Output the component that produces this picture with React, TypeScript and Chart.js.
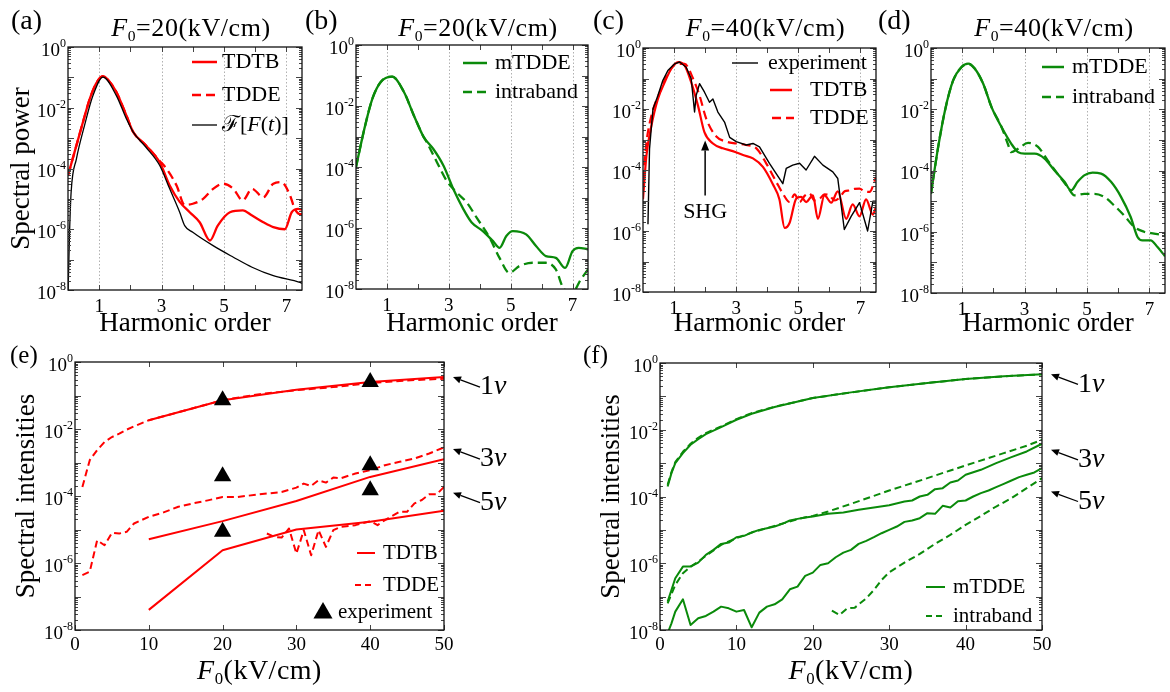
import React, { useEffect, useRef } from "react";
import { Chart, registerables } from "chart.js";

Chart.register(...registerables);

const SERIF = "'Liberation Serif', 'DejaVu Serif', serif";
const RED = "#ff0000";
const GREEN = "#0a8a0a";
const BLACK = "#000000";
Chart.defaults.font.family = SERIF;

// ---------- data (y values are log10 of the spectral power / intensity) ----------
// (a) F0 = 20 kV/cm
const aTdtbX = [0, 0.27, 0.48, 0.7, 0.9, 1.12, 1.3, 1.55, 1.87, 2.09, 2.5, 2.94, 3.26, 3.58, 3.9, 4.22, 4.55, 4.8, 5.19, 5.6, 5.9, 6.26, 6.58, 6.95, 7.17, 7.38, 7.5];
const aTdtbY = [-4.23, -3.24, -2.47, -1.7, -1.2, -0.96, -1.1, -1.48, -2.25, -2.8, -3.24, -3.8, -4.56, -5.1, -5.44, -5.77, -6.37, -5.88, -5.44, -5.38, -5.55, -5.77, -5.93, -6.0, -5.44, -5.33, -5.35];
const aTddeX = [0, 0.27, 0.48, 0.7, 0.9, 1.12, 1.3, 1.55, 1.87, 2.09, 2.5, 2.94, 3.15, 3.48, 3.74, 4.0, 4.33, 4.65, 4.97, 5.3, 5.6, 5.9, 6.26, 6.58, 6.84, 7.1, 7.27, 7.43, 7.5];
const aTddeY = [-4.23, -3.24, -2.47, -1.7, -1.2, -0.96, -1.1, -1.48, -2.25, -2.8, -3.24, -3.75, -4.0, -4.56, -5.2, -5.16, -5.0, -4.67, -4.5, -4.67, -5.05, -4.67, -4.95, -4.5, -4.45, -4.84, -5.33, -5.5, -5.5];
const aFieldX = [0, 0.05, 0.1, 0.27, 0.53, 0.8, 1.12, 1.55, 1.87, 2.09, 2.5, 2.94, 3.26, 3.58, 3.74, 4.0, 4.65, 5.3, 5.9, 6.58, 7.43, 7.5];
const aFieldY = [-8.2, -6.1, -4.78, -3.68, -2.58, -1.6, -0.99, -1.6, -2.36, -2.8, -3.3, -3.9, -4.67, -5.44, -5.88, -6.1, -6.54, -6.92, -7.25, -7.53, -7.75, -7.78];

// (b) F0 = 20 kV/cm
const bMtX = [0, 0.27, 0.53, 0.8, 1.17, 1.55, 1.87, 2.19, 2.5, 2.83, 3.15, 3.47, 3.74, 4.1, 4.43, 4.64, 4.86, 5.07, 5.5, 5.82, 6.14, 6.46, 6.76, 7.0, 7.2, 7.5];
const bMtY = [-4.0, -2.75, -1.76, -1.21, -1.04, -1.54, -2.31, -3.02, -3.41, -3.96, -4.73, -5.38, -5.82, -6.1, -6.43, -6.65, -6.26, -6.1, -6.21, -6.59, -6.92, -6.98, -7.31, -6.76, -6.65, -6.7];
const bIbX = [0, 0.27, 0.53, 0.8, 1.17, 1.55, 1.87, 2.19, 2.29, 2.62, 2.93, 3.26, 3.58, 3.9, 4.32, 4.64, 4.96, 5.28, 5.71, 6.14, 6.46, 6.72, 7.0, 7.26, 7.5];
const bIbY = [-4.0, -2.75, -1.76, -1.21, -1.04, -1.54, -2.31, -3.02, -3.19, -3.85, -4.45, -4.84, -5.16, -5.66, -6.32, -6.98, -7.47, -7.25, -7.14, -7.14, -7.36, -8.0, -8.1, -7.7, -7.36];

// (c) F0 = 40 kV/cm
const cExpX = [0.16, 0.21, 0.32, 0.48, 0.64, 0.8, 1.02, 1.18, 1.39, 1.55, 1.66, 1.71, 1.82, 1.98, 2.14, 2.25, 2.41, 2.63, 2.79, 3.0, 3.32, 3.54, 3.75, 4.07, 4.5, 4.61, 4.82, 5.04, 5.25, 5.52, 5.79, 6.11, 6.27, 6.48, 6.7, 6.97, 7.23, 7.4, 7.5];
const cExpY = [-5.78, -3.31, -2.0, -1.56, -1.06, -0.74, -0.52, -0.46, -0.63, -1.0, -2.1, -1.56, -1.17, -1.45, -1.78, -1.67, -2.1, -2.44, -2.93, -3.07, -3.18, -3.13, -3.24, -3.78, -4.45, -3.95, -3.84, -3.78, -4.0, -3.55, -3.84, -4.06, -4.28, -5.95, -5.52, -5.07, -6.0, -5.02, -5.02];
const cTdtbX = [0, 0.11, 0.27, 0.48, 0.7, 0.91, 1.13, 1.34, 1.55, 1.77, 1.98, 2.25, 2.57, 2.89, 3.22, 3.54, 3.86, 4.18, 4.39, 4.56, 4.72, 4.93, 5.09, 5.25, 5.47, 5.63, 5.84, 6.06, 6.27, 6.54, 6.75, 6.97, 7.18, 7.4, 7.5];
const cTdtbY = [-4.96, -3.53, -2.55, -1.67, -1.12, -0.68, -0.46, -0.57, -1.12, -1.89, -2.77, -3.13, -3.29, -3.38, -3.51, -3.62, -3.9, -4.47, -4.96, -5.9, -5.73, -4.94, -4.88, -5.05, -4.83, -5.6, -4.83, -5.07, -4.7, -5.6, -5.13, -5.52, -4.96, -5.46, -5.2];
const cTddeX = [0, 0.11, 0.27, 0.54, 0.8, 1.07, 1.34, 1.61, 1.82, 2.04, 2.36, 2.68, 3.0, 3.32, 3.65, 3.97, 4.29, 4.5, 4.72, 4.88, 5.04, 5.2, 5.36, 5.52, 5.68, 5.84, 6.0, 6.17, 6.33, 6.49, 6.65, 6.81, 6.97, 7.13, 7.29, 7.5];
const cTddeY = [-4.3, -3.1, -2.22, -1.45, -0.85, -0.52, -0.52, -1.0, -1.56, -2.33, -2.9, -3.07, -3.13, -3.18, -3.29, -3.79, -4.39, -4.77, -5.05, -4.8, -5.05, -4.85, -4.77, -5.0, -4.95, -4.8, -4.83, -5.0, -4.9, -4.7, -4.67, -4.62, -4.61, -4.7, -4.72, -4.23];

// (d) F0 = 40 kV/cm
const dMtX = [0, 0.23, 0.45, 0.71, 0.98, 1.19, 1.4, 1.67, 1.94, 2.26, 2.57, 2.79, 3.0, 3.32, 3.64, 3.96, 4.28, 4.49, 4.7, 4.91, 5.18, 5.45, 5.77, 6.09, 6.4, 6.62, 6.78, 7.04, 7.26, 7.5];
const dMtY = [-4.75, -3.23, -2.03, -1.06, -0.62, -0.51, -0.67, -1.16, -1.93, -2.58, -3.12, -3.4, -3.45, -3.45, -3.61, -4.0, -4.37, -4.65, -4.37, -4.16, -4.07, -4.1, -4.37, -4.86, -5.52, -6.17, -6.28, -6.28, -6.5, -6.8];
const dIbX = [0, 0.23, 0.45, 0.71, 0.98, 1.19, 1.4, 1.67, 1.94, 2.26, 2.47, 2.57, 2.79, 3.11, 3.43, 3.74, 4.06, 4.38, 4.6, 4.91, 5.23, 5.55, 5.87, 6.19, 6.51, 6.83, 7.15, 7.5];
const dIbY = [-4.75, -3.23, -2.03, -1.06, -0.62, -0.51, -0.67, -1.16, -1.93, -2.58, -3.15, -3.4, -3.29, -3.1, -3.23, -3.67, -4.11, -4.54, -4.81, -4.76, -4.76, -4.86, -5.14, -5.47, -5.84, -6.0, -6.06, -6.12];

// (e) intensities vs F0, TDTB / TDDE / experiment
const eTdtbX = [10, 20, 30, 40, 50];
const eTdtb1 = [-1.74, -1.14, -0.83, -0.6, -0.45];
const eTdtb3 = [-5.29, -4.75, -4.15, -3.43, -2.9];
const eTdtb5 = [-7.4, -5.62, -5.0, -4.77, -4.44];
const eTdde1X = [1, 2, 3, 4, 5, 6, 7, 8, 10, 15, 20, 25, 30, 35, 40, 45, 50];
const eTdde1Y = [-3.73, -2.93, -2.63, -2.39, -2.24, -2.14, -2.02, -1.92, -1.74, -1.44, -1.14, -0.96, -0.84, -0.75, -0.63, -0.55, -0.5];
const eTdde3X = [1, 2, 3, 4, 5, 6, 7, 8, 9, 10, 12, 14, 16, 18, 20, 22, 25, 28, 30, 31, 32, 33, 34, 35, 36, 38, 40, 42, 44, 46, 48, 50];
const eTdde3Y = [-6.36, -6.26, -5.32, -5.47, -5.1, -5.12, -5.07, -4.82, -4.72, -4.62, -4.49, -4.32, -4.22, -4.13, -4.03, -4.03, -3.95, -3.88, -3.75, -3.63, -3.7, -3.53, -3.6, -3.45, -3.47, -3.33, -3.23, -3.08, -2.98, -2.88, -2.73, -2.55];
const eTdde5X = [26, 27, 28, 29, 30, 31, 32, 33, 34, 35, 36, 38, 40, 41, 42, 44, 45, 46, 47, 48, 49, 50];
const eTdde5Y = [-5.12, -5.22, -5.24, -4.97, -5.72, -5.02, -5.77, -5.02, -5.52, -5.02, -4.92, -4.87, -4.75, -4.87, -4.72, -4.47, -4.47, -4.22, -4.12, -3.95, -3.95, -3.73];
const eExpX = [20, 20, 20, 40, 40, 40];
const eExpY = [-1.14, -3.41, -5.07, -0.6, -3.08, -3.83];

// (f) intensities vs F0, mTDDE / intraband
const f1X = [1, 1.5, 2, 3, 4, 5, 6, 8, 10, 12, 15, 20, 25, 30, 35, 40, 45, 50];
const fMt1 = [-3.7, -3.3, -3.0, -2.7, -2.45, -2.28, -2.13, -1.92, -1.7, -1.52, -1.32, -1.05, -0.88, -0.73, -0.6, -0.48, -0.4, -0.34];
const fIb1 = [-3.65, -3.27, -2.97, -2.66, -2.42, -2.24, -2.1, -1.9, -1.68, -1.5, -1.31, -1.05, -0.88, -0.73, -0.6, -0.48, -0.4, -0.34];
const fMt3X = [1, 2, 3, 4, 5, 6, 7, 8, 9, 10, 11, 12, 13, 14, 15, 16, 17, 18, 19, 20, 22, 24, 26, 28, 30, 32, 33, 34, 35, 36, 37, 38, 39, 40, 42, 44, 46, 48, 50];
const fMt3Y = [-7.15, -6.45, -6.1, -6.1, -5.98, -5.75, -5.6, -5.42, -5.38, -5.22, -5.18, -5.08, -5.0, -4.95, -4.9, -4.82, -4.72, -4.67, -4.63, -4.6, -4.52, -4.48, -4.4, -4.33, -4.26, -4.15, -4.12, -4.0, -3.95, -3.78, -3.75, -3.58, -3.52, -3.35, -3.2, -3.0, -2.82, -2.65, -2.42];
const fIb3X = [1, 2, 3, 4, 5, 6, 8, 10, 12, 15, 18, 20, 22, 25, 28, 30, 33, 35, 38, 40, 43, 45, 48, 50];
const fIb3Y = [-7.2, -6.65, -6.3, -6.1, -5.95, -5.78, -5.45, -5.25, -5.08, -4.88, -4.68, -4.58, -4.45, -4.22, -3.98, -3.82, -3.6, -3.45, -3.22, -3.07, -2.85, -2.7, -2.48, -2.3];
const fMt5X = [1, 1.5, 2, 3, 4, 5, 6, 7, 8, 9, 10, 11, 12, 13, 14, 15, 16, 17, 18, 19, 20, 21, 22, 23, 24, 25, 26, 27, 28, 29, 30, 31, 32, 33, 34, 35, 36, 37, 38, 39, 40, 41, 42, 43, 44, 45, 46, 47, 48, 49, 50];
const fMt5Y = [-8.1, -7.8, -7.45, -7.08, -7.85, -7.65, -7.58, -7.45, -7.3, -7.35, -7.45, -7.4, -7.92, -7.48, -7.3, -7.23, -7.08, -6.78, -6.7, -6.38, -6.28, -6.05, -6.0, -5.82, -5.68, -5.6, -5.42, -5.33, -5.22, -5.1, -5.0, -4.9, -4.76, -4.72, -4.65, -4.5, -4.52, -4.28, -4.33, -4.14, -4.12, -4.0, -3.9, -3.82, -3.72, -3.62, -3.52, -3.42, -3.35, -3.28, -3.15];
const fIb5X = [22.5, 23.5, 24.5, 25.5, 27, 28, 29, 30, 32, 34, 36, 38, 40, 42, 44, 46, 48, 50];
const fIb5Y = [-7.42, -7.55, -7.35, -7.33, -7.05, -6.8, -6.5, -6.27, -5.98, -5.72, -5.42, -5.15, -4.85, -4.58, -4.3, -4.05, -3.75, -3.45];

// axis ticks
const harmLabels = [1, 3, 5, 7];
const harmMarks = [1, 2, 3, 4, 5, 6, 7];
const fieldLabels = [0, 10, 20, 30, 40, 50];
const decadeLabels = [0, -2, -4, -6, -8];
const nuNotesE = [{ n: "1", v: -0.45 }, { n: "3", v: -2.6 }, { n: "5", v: -3.9 }];
const nuNotesF = [{ n: "1", v: -0.34 }, { n: "3", v: -2.6 }, { n: "5", v: -3.85 }];

// ---------- types ----------
type Seg = [string, boolean];
type SeriesDef = { xs: number[]; ys: number[]; color: string; width: number; dash?: number[]; smooth?: boolean; marker?: boolean };
type LegendItem = { parts: Seg[]; color: string; width?: number; dash?: number[]; marker?: boolean; lx: number; ll: number; tx: number; ty: number };
type PanelDef = {
  box: [number, number, number, number];
  plot: [number, number, number, number];
  xMax: number;
  xLabels: number[];
  xMarks: number[];
  xGrid: number[];
  tickPad: number;
  series: SeriesDef[];
  yTitle?: string;
  yTitlePad?: number;
  xTitle?: string;
  legend: LegendItem[];
  legendFont: number;
  notes?: { n: string; v: number }[];
  shg?: boolean;
};

const DASH_TOP = [9, 5];
const DASH_BOT = [7, 4];

const PANELS: PanelDef[] = [
  {
    box: [0, 0, 306, 340], plot: [68, 47, 302, 290], xMax: 7.5,
    xLabels: harmLabels, xMarks: harmMarks, xGrid: harmLabels, tickPad: 6,
    yTitle: "Spectral power", yTitlePad: 6, xTitle: "Harmonic order",
    series: [
      { xs: aFieldX, ys: aFieldY, color: BLACK, width: 1.3, smooth: true },
      { xs: aTdtbX, ys: aTdtbY, color: RED, width: 2.3, smooth: true },
      { xs: aTddeX, ys: aTddeY, color: RED, width: 2.3, dash: DASH_TOP, smooth: true },
    ],
    legendFont: 22,
    legend: [
      { parts: [["TDTB", false]], color: RED, width: 2.5, lx: 124, ll: 25, tx: 154, ty: 15 },
      { parts: [["TDDE", false]], color: RED, width: 2.5, dash: DASH_TOP, lx: 124, ll: 25, tx: 154, ty: 48 },
      { parts: [["\u2131[", false], ["F", true], ["(", false], ["t", true], [")]", false]], color: BLACK, width: 1.3, lx: 124, ll: 25, tx: 154, ty: 78 },
    ],
  },
  {
    box: [306, 0, 286, 340], plot: [356, 45, 588, 289], xMax: 7.5,
    xLabels: harmLabels, xMarks: harmMarks, xGrid: harmLabels, tickPad: 6,
    xTitle: "Harmonic order",
    series: [
      { xs: bMtX, ys: bMtY, color: GREEN, width: 2.3, smooth: true },
      { xs: bIbX, ys: bIbY, color: GREEN, width: 2.3, dash: DASH_TOP, smooth: true },
    ],
    legendFont: 22,
    legend: [
      { parts: [["mTDDE", false]], color: GREEN, width: 2.5, lx: 107, ll: 24, tx: 139, ty: 18 },
      { parts: [["intraband", false]], color: GREEN, width: 2.5, dash: DASH_TOP, lx: 107, ll: 24, tx: 139, ty: 47 },
    ],
  },
  {
    box: [592, 0, 288, 340], plot: [643, 48, 876, 292], xMax: 7.5,
    xLabels: harmLabels, xMarks: harmMarks, xGrid: harmLabels, tickPad: 6,
    xTitle: "Harmonic order", shg: true,
    series: [
      { xs: cExpX, ys: cExpY, color: BLACK, width: 1.4 },
      { xs: cTdtbX, ys: cTdtbY, color: RED, width: 2.2, smooth: true },
      { xs: cTddeX, ys: cTddeY, color: RED, width: 2.2, dash: DASH_TOP, smooth: true },
    ],
    legendFont: 22,
    legend: [
      { parts: [["experiment", false]], color: BLACK, width: 1.4, lx: 89, ll: 26, tx: 125, ty: 15 },
      { parts: [["TDTB", false]], color: RED, width: 2.5, lx: 127, ll: 22, tx: 167, ty: 42 },
      { parts: [["TDDE", false]], color: RED, width: 2.5, dash: DASH_TOP, lx: 129, ll: 22, tx: 167, ty: 70 },
    ],
  },
  {
    box: [880, 0, 290, 340], plot: [931, 48, 1165, 293], xMax: 7.5,
    xLabels: harmLabels, xMarks: harmMarks, xGrid: harmLabels, tickPad: 6,
    xTitle: "Harmonic order",
    series: [
      { xs: dMtX, ys: dMtY, color: GREEN, width: 2.3, smooth: true },
      { xs: dIbX, ys: dIbY, color: GREEN, width: 2.3, dash: DASH_TOP, smooth: true },
    ],
    legendFont: 22,
    legend: [
      { parts: [["mTDDE", false]], color: GREEN, width: 2.5, lx: 111, ll: 22, tx: 141, ty: 19 },
      { parts: [["intraband", false]], color: GREEN, width: 2.5, dash: DASH_TOP, lx: 111, ll: 22, tx: 141, ty: 49 },
    ],
  },
  {
    box: [0, 340, 590, 352], plot: [75, 362, 444, 630], xMax: 50,
    xLabels: fieldLabels, xMarks: fieldLabels, xGrid: [], tickPad: 4,
    yTitle: "Spectral intensities", yTitlePad: 11, notes: nuNotesE,
    series: [
      { xs: eExpX, ys: eExpY, color: BLACK, width: 1, marker: true },
      { xs: eTdtbX, ys: eTdtb1, color: RED, width: 2 },
      { xs: eTdde1X, ys: eTdde1Y, color: RED, width: 2, dash: DASH_BOT },
      { xs: eTdtbX, ys: eTdtb3, color: RED, width: 2 },
      { xs: eTdde3X, ys: eTdde3Y, color: RED, width: 2, dash: DASH_BOT },
      { xs: eTdtbX, ys: eTdtb5, color: RED, width: 2 },
      { xs: eTdde5X, ys: eTdde5Y, color: RED, width: 2, dash: DASH_BOT },
    ],
    legendFont: 21,
    legend: [
      { parts: [["TDTB", false]], color: RED, width: 2, lx: 282, ll: 18, tx: 308, ty: 191 },
      { parts: [["TDDE", false]], color: RED, width: 2, dash: [6, 4], lx: 280, ll: 20, tx: 308, ty: 223 },
      { parts: [["experiment", false]], color: BLACK, marker: true, lx: 248, ll: 0, tx: 263, ty: 250 },
    ],
  },
  {
    box: [590, 340, 580, 352], plot: [660, 363, 1042, 630], xMax: 50,
    xLabels: fieldLabels, xMarks: fieldLabels, xGrid: [], tickPad: 4,
    yTitle: "Spectral intensities", yTitlePad: 6, notes: nuNotesF,
    series: [
      { xs: f1X, ys: fMt1, color: GREEN, width: 2 },
      { xs: f1X, ys: fIb1, color: GREEN, width: 2, dash: DASH_BOT },
      { xs: fMt3X, ys: fMt3Y, color: GREEN, width: 2 },
      { xs: fIb3X, ys: fIb3Y, color: GREEN, width: 2, dash: DASH_BOT },
      { xs: fMt5X, ys: fMt5Y, color: GREEN, width: 2 },
      { xs: fIb5X, ys: fIb5Y, color: GREEN, width: 2, dash: DASH_BOT },
    ],
    legendFont: 21,
    legend: [
      { parts: [["mTDDE", false]], color: GREEN, width: 2, lx: 266, ll: 19, tx: 293, ty: 224 },
      { parts: [["intraband", false]], color: GREEN, width: 2, dash: [6, 4], lx: 266, ll: 19, tx: 293, ty: 253 },
    ],
  },
];

// ---------- drawing helpers ----------
function drawParts(ctx: CanvasRenderingContext2D, parts: Seg[], x: number, y: number, size: number, align: "left" | "center" | "right" = "left") {
  const fontOf = (it: boolean) => `${it ? "italic " : ""}${size}px ${SERIF}`;
  const widths = parts.map(([t, it]) => { ctx.font = fontOf(it); return ctx.measureText(t).width; });
  const total = widths.reduce((a, b) => a + b, 0);
  let cx = align === "center" ? x - total / 2 : align === "right" ? x - total : x;
  ctx.textAlign = "left";
  ctx.textBaseline = "middle";
  parts.forEach(([t, it], i) => { ctx.font = fontOf(it); ctx.fillText(t, cx, y); cx += widths[i]; });
}

function drawArrow(ctx: CanvasRenderingContext2D, x0: number, y0: number, x1: number, y1: number, len: number, hw: number) {
  const ang = Math.atan2(y1 - y0, x1 - x0);
  const bx = x1 - Math.cos(ang) * len;
  const by = y1 - Math.sin(ang) * len;
  ctx.beginPath();
  ctx.moveTo(x0, y0);
  ctx.lineTo(bx, by);
  ctx.stroke();
  ctx.beginPath();
  ctx.moveTo(x1, y1);
  ctx.lineTo(bx + Math.sin(ang) * hw, by - Math.cos(ang) * hw);
  ctx.lineTo(bx - Math.sin(ang) * hw, by + Math.cos(ang) * hw);
  ctx.closePath();
  ctx.fill();
}

function drawTriangle(ctx: CanvasRenderingContext2D, cx: number, cy: number, r: number) {
  ctx.beginPath();
  for (let k = 0; k < 3; k++) {
    const a = -Math.PI / 2 + (k * 2 * Math.PI) / 3;
    const px = cx + Math.cos(a) * r;
    const py = cy + Math.sin(a) * r;
    if (k === 0) ctx.moveTo(px, py); else ctx.lineTo(px, py);
  }
  ctx.closePath();
  ctx.fill();
}

function makeDecor(p: PanelDef) {
  return {
    id: "decor",
    beforeDatasetsDraw(chart: any) {
      const { ctx, chartArea, scales } = chart;
      ctx.save();
      ctx.strokeStyle = "#a8a8a8";
      ctx.lineWidth = 0.9;
      ctx.setLineDash([1.5, 2]);
      p.xGrid.forEach((v) => {
        const px = Math.round(scales.x.getPixelForValue(v)) + 0.5;
        ctx.beginPath();
        ctx.moveTo(px, chartArea.top);
        ctx.lineTo(px, chartArea.bottom);
        ctx.stroke();
      });
      ctx.restore();
    },
    afterDatasetsDraw(chart: any) {
      const { ctx, chartArea, scales } = chart;
      const { left, right, top, bottom } = chartArea;
      const xs = scales.x;
      const ys = scales.y;
      ctx.save();
      // inward ticks
      ctx.strokeStyle = "#444";
      ctx.lineWidth = 1;
      ctx.setLineDash([]);
      for (let e = -8; e <= 0; e++) {
        const py = Math.round(ys.getPixelForValue(Math.pow(10, e))) + 0.5;
        ctx.beginPath();
        ctx.moveTo(left, py); ctx.lineTo(left + 6, py);
        ctx.moveTo(right, py); ctx.lineTo(right - 6, py);
        ctx.stroke();
        if (e < 0) {
          for (let m = 2; m <= 9; m++) {
            const q = Math.round(ys.getPixelForValue(m * Math.pow(10, e))) + 0.5;
            ctx.beginPath();
            ctx.moveTo(left, q); ctx.lineTo(left + 3, q);
            ctx.moveTo(right, q); ctx.lineTo(right - 3, q);
            ctx.stroke();
          }
        }
      }
      p.xMarks.forEach((v) => {
        const px = Math.round(xs.getPixelForValue(v)) + 0.5;
        ctx.beginPath();
        ctx.moveTo(px, bottom); ctx.lineTo(px, bottom - 5);
        ctx.moveTo(px, top); ctx.lineTo(px, top + 5);
        ctx.stroke();
      });
      // frame
      ctx.strokeStyle = "#111";
      ctx.lineWidth = 1.3;
      ctx.strokeRect(left, top, right - left, bottom - top);
      // y tick labels 10^n
      ctx.fillStyle = "#000";
      decadeLabels.forEach((e) => {
        const py = ys.getPixelForValue(Math.pow(10, e));
        const supTxt = e === 0 ? "0" : "-" + String(-e);
        ctx.font = `12px ${SERIF}`;
        const sw = ctx.measureText(supTxt).width;
        ctx.font = `19px ${SERIF}`;
        const bw = ctx.measureText("10").width;
        const xr = left - 2;
        ctx.textAlign = "left";
        ctx.textBaseline = "middle";
        ctx.fillText("10", xr - sw - bw, py + 4);
        ctx.font = `12px ${SERIF}`;
        ctx.fillText(supTxt, xr - sw, py - 3);
      });
      // legend
      p.legend.forEach((it) => {
        const y = top + it.ty;
        ctx.fillStyle = it.color;
        ctx.strokeStyle = it.color;
        if (it.marker) {
          drawTriangle(ctx, left + it.lx, y + 1, 11);
        } else {
          ctx.lineWidth = it.width || 2;
          ctx.setLineDash(it.dash || []);
          ctx.beginPath();
          ctx.moveTo(left + it.lx, y);
          ctx.lineTo(left + it.lx + it.ll, y);
          ctx.stroke();
          ctx.setLineDash([]);
        }
        ctx.fillStyle = "#000";
        drawParts(ctx, it.parts, left + it.tx, y, p.legendFont);
      });
      // harmonic arrows on the right
      if (p.notes) {
        ctx.strokeStyle = "#000";
        ctx.fillStyle = "#000";
        ctx.lineWidth = 1.3;
        p.notes.forEach((nt) => {
          const hy = ys.getPixelForValue(Math.pow(10, nt.v));
          const hx = right + 9;
          const tx = hx + 27;
          const ty = hy + 10;
          drawArrow(ctx, tx, ty, hx, hy, 8, 3.5);
          drawParts(ctx, [[nt.n, false], ["\u03bd", true]], tx, ty, 28);
        });
      }
      // SHG annotation
      if (p.shg) {
        const px = xs.getPixelForValue(2);
        ctx.strokeStyle = "#000";
        ctx.fillStyle = "#000";
        ctx.lineWidth = 1.5;
        drawArrow(ctx, px, ys.getPixelForValue(Math.pow(10, -4.84)), px, ys.getPixelForValue(Math.pow(10, -3.03)), 10, 4);
        drawParts(ctx, [["SHG", false]], px, ys.getPixelForValue(Math.pow(10, -5.4)), 22, "center");
      }
      ctx.restore();
    },
  };
}

function buildConfig(p: PanelDef): any {
  const [bl, bt, bw, bh] = p.box;
  const [L, T, R, B] = p.plot;
  return {
    type: "line",
    data: {
      datasets: p.series.map((s) => ({
        data: s.xs.map((x, i) => ({ x, y: Math.pow(10, s.ys[i]) })),
        borderColor: s.color,
        backgroundColor: s.color,
        borderWidth: s.width,
        borderDash: s.dash || [],
        pointRadius: s.marker ? 10 : 0,
        pointStyle: "triangle",
        pointBorderWidth: 0,
        showLine: !s.marker,
        cubicInterpolationMode: s.smooth ? "monotone" : "default",
        tension: 0,
        fill: false,
        borderJoinStyle: "round",
      })),
    },
    options: {
      animation: false,
      responsive: false,
      maintainAspectRatio: false,
      events: [],
      layout: { padding: { left: 0, top: T - bt, right: bl + bw - R, bottom: 0 } },
      plugins: { legend: { display: false }, tooltip: { enabled: false }, title: { display: false } },
      scales: {
        x: {
          type: "linear",
          min: 0,
          max: p.xMax,
          afterBuildTicks: (s: any) => { s.ticks = p.xLabels.map((v) => ({ value: v })); },
          afterFit: (s: any) => { s.height = bt + bh - B; },
          grid: { display: false, drawTicks: false },
          border: { display: false },
          ticks: { autoSkip: false, maxRotation: 0, padding: p.tickPad, color: "#000", font: { size: 19, family: SERIF }, callback: (v: any) => String(v) },
          title: p.xTitle
            ? { display: true, text: p.xTitle, color: "#000", font: { size: 27, family: SERIF }, padding: { top: 0, bottom: 0 } }
            : { display: false },
        },
        y: {
          type: "logarithmic",
          min: 1e-8,
          max: 1,
          afterFit: (s: any) => { s.width = L - bl; },
          grid: { display: false, drawTicks: false },
          border: { display: false },
          ticks: { display: false },
          title: p.yTitle
            ? { display: true, text: p.yTitle, color: "#000", font: { size: 27, family: SERIF }, padding: { top: p.yTitlePad || 0, bottom: 0 } }
            : { display: false },
        },
      },
    },
    plugins: [makeDecor(p)],
  };
}

function Panel({ p }: { p: PanelDef }) {
  const ref = useRef<HTMLCanvasElement>(null);
  useEffect(() => {
    const chart = new Chart(ref.current as HTMLCanvasElement, buildConfig(p));
    return () => chart.destroy();
  }, [p]);
  const [l, t, w, h] = p.box;
  return <canvas ref={ref} width={w} height={h} style={{ position: "absolute", left: l, top: t, width: w, height: h }} />;
}

const abs = (o: React.CSSProperties): React.CSSProperties => ({ position: "absolute", whiteSpace: "nowrap", ...o });
const subStyle: React.CSSProperties = { fontSize: "0.6em", verticalAlign: "-0.3em", lineHeight: 0 };

const topTitles = [
  { L: 68, R: 302, v: "20" },
  { L: 356, R: 588, v: "20" },
  { L: 643, R: 876, v: "40" },
  { L: 931, R: 1165, v: "40" },
];
const panelTags = [
  { t: "(a)", x: 11, y: 6, s: 28 },
  { t: "(b)", x: 305, y: 6, s: 28 },
  { t: "(c)", x: 593, y: 6, s: 28 },
  { t: "(d)", x: 878, y: 6, s: 28 },
  { t: "(e)", x: 10, y: 342, s: 25 },
  { t: "(f)", x: 583, y: 342, s: 25 },
];
const bottomTitles = [
  { L: 75, R: 444 },
  { L: 660, R: 1042 },
];

export default function App() {
  return (
    <div style={{ position: "absolute", left: 0, top: 0, width: 1170, height: 692, background: "#fff", fontFamily: SERIF, color: "#000", overflow: "hidden" }}>
      {PANELS.map((p, i) => <Panel key={i} p={p} />)}
      {topTitles.map((t, i) => (
        <div key={"tt" + i} style={abs({ left: t.L + 6, width: t.R - t.L, top: 15, textAlign: "center", fontSize: 26, lineHeight: "26px", letterSpacing: "0.6px" })}>
          <i>F</i><sub style={subStyle}>0</sub>={t.v}(kV/cm)
        </div>
      ))}
      {bottomTitles.map((t, i) => (
        <div key={"bt" + i} style={abs({ left: t.L, width: t.R - t.L, top: 656, textAlign: "center", fontSize: 28, lineHeight: "28px", letterSpacing: "0.5px" })}>
          <i>F</i><sub style={subStyle}>0</sub>(kV/cm)
        </div>
      ))}
      {panelTags.map((t, i) => (
        <div key={"pt" + i} style={abs({ left: t.x, top: t.y, fontSize: t.s, lineHeight: t.s + "px" })}>{t.t}</div>
      ))}
    </div>
  );
}
